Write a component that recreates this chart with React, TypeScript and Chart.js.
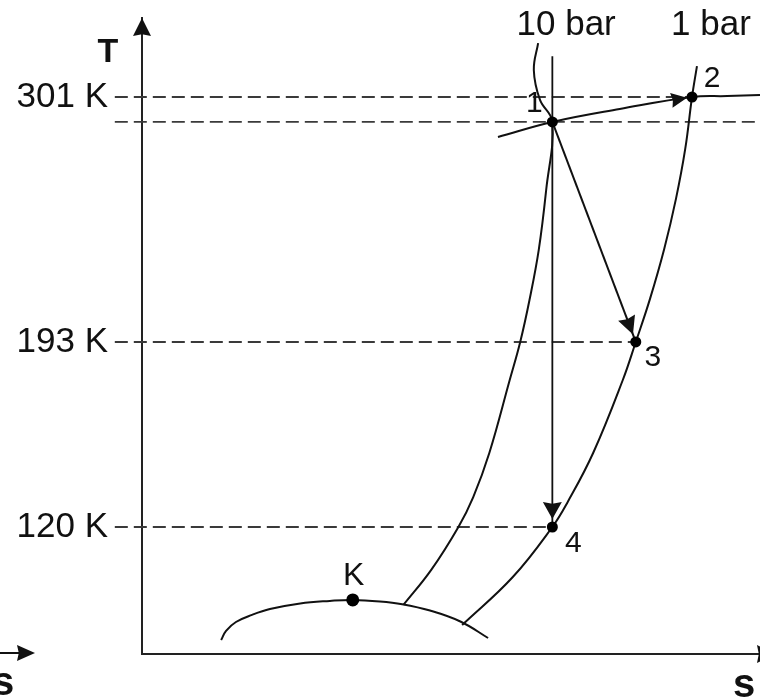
import React, { useEffect, useRef } from 'react';
import { Chart, LinearScale, registerables } from 'chart.js';

Chart.register(...registerables);

// ---- Temperature axis (schematic, not to scale) ----
const TICK_TEMPS = [120, 193, 301];
const T_AXIS_MIN = 70;
const T_AXIS_MAX = 336;
// Reference temperatures and where they sit along the axis (0 = bottom, 1 = top)
const T_AXIS_STOPS = [70, 120, 193, 301, 336];
const T_AXIS_FRACTIONS = [0, 0.1997, 0.4906, 0.8758, 1];

// ---- Entropy axis (arbitrary units) ----
const S_AXIS_MIN = 0;
const S_AXIS_MAX = 10;

// ---- State points ----
const STATE_NAMES = ['1', '2', '3', '4', 'K'];
const STATE_S = [6.64, 8.9, 7.99, 6.64, 3.41];
const STATE_T = [290, 301, 193, 120, 91.3];

// ---- Isobars ----
const ISOBAR_10_S = [6.41, 6.34, 6.44, 6.64, 6.54, 6.42, 6.27, 6.12, 5.95, 5.62, 5.36, 5.12, 4.68, 4.23];
const ISOBAR_10_T = [324.9, 313.0, 299.7, 290, 260.0, 233.6, 211.5, 193, 178.0, 149.2, 131.8, 120, 103.1, 89.3];

const ISOBAR_1_S = [8.98, 8.9, 8.79, 8.64, 8.45, 8.22, 7.99, 7.78, 7.3, 6.88, 6.64, 6.0, 5.18];
const ISOBAR_1_T = [314.7, 301, 278.1, 256.1, 234.0, 212.0, 193, 178.0, 149.2, 129.5, 120, 100.3, 81.4];

// ---- Saturation dome, critical point K on top ----
const DOME_S = [1.28, 1.36, 1.52, 1.78, 2.07, 2.56, 3.04, 3.41, 3.85, 4.21, 4.66, 5.16, 5.6];
const DOME_T = [75.5, 79.1, 82.6, 85.4, 87.7, 89.9, 90.9, 91.3, 90.7, 89.6, 87.1, 82.7, 76.3];

// ---- Curve through states 1 and 2 ----
const LINE_12_S = [5.76, 6.64, 7.73, 8.9, 9.47, 10.0];
const LINE_12_T = [283.4, 290, 295.7, 301, 301.4, 301.9];

// ---- Isentrope through state 1 down to state 4 ----
const ISENTROPE_S = [6.64, 6.64];
const ISENTROPE_T = [319, 120];

// ---- Dashed temperature guides (start left of the T axis) ----
const GUIDE_START_S = -0.44;
const GUIDE_STUB_S = [-2.3, -1.73];

const FONT = '"Liberation Sans", Arial, Helvetica, sans-serif';
const INK = '#111';
const DASH = '#3a3a3a';

const zip = (s: number[], t: number[]) => s.map((x, i) => ({ x, y: t[i] }));
const state = (i: number) => ({ x: STATE_S[i], y: STATE_T[i] });

function toFraction(v: number): number {
  const n = T_AXIS_STOPS.length;
  let i = 0;
  if (v >= T_AXIS_STOPS[n - 2]) i = n - 2;
  else while (i < n - 2 && v > T_AXIS_STOPS[i + 1]) i++;
  const a = T_AXIS_STOPS[i], b = T_AXIS_STOPS[i + 1];
  const fa = T_AXIS_FRACTIONS[i], fb = T_AXIS_FRACTIONS[i + 1];
  return fa + ((v - a) / (b - a)) * (fb - fa);
}

function fromFraction(f: number): number {
  const n = T_AXIS_FRACTIONS.length;
  let i = 0;
  if (f >= T_AXIS_FRACTIONS[n - 2]) i = n - 2;
  else while (i < n - 2 && f > T_AXIS_FRACTIONS[i + 1]) i++;
  const a = T_AXIS_STOPS[i], b = T_AXIS_STOPS[i + 1];
  const fa = T_AXIS_FRACTIONS[i], fb = T_AXIS_FRACTIONS[i + 1];
  return a + ((f - fa) / (fb - fa)) * (b - a);
}

// Piecewise-linear temperature scale for a schematic T-s diagram
class SchematicScale extends LinearScale {
  static id = 'schematic';
  static defaults = {};
  getPixelForValue(value: any) {
    if (value === null || value === undefined || isNaN(value)) return NaN;
    return this.getPixelForDecimal(toFraction(+value));
  }
  getValueForPixel(pixel: number) {
    return fromFraction(this.getDecimalForPixel(pixel));
  }
}
Chart.register(SchematicScale as any);

// Arrowheads placed along process lines: direction from -> to, tip pulled back by `inset` px
const PROCESS_ARROWS = [
  { from: { x: LINE_12_S[2], y: LINE_12_T[2] }, to: state(1), inset: 5, len: 16, half: 7.5 },
  { from: state(0), to: state(2), inset: 8, len: 18, half: 9 },
  { from: state(0), to: state(3), inset: 8, len: 17, half: 9.5 },
];

// Text annotations anchored to data points, offset in px (baseline, centred)
const ANNOTATIONS = [
  { text: '1', at: state(0), dx: -18, dy: -10, size: 30 },
  { text: '2', at: state(1), dx: 20, dy: -10, size: 30 },
  { text: '3', at: state(2), dx: 17, dy: 24, size: 30 },
  { text: '4', at: state(3), dx: 21, dy: 25, size: 30 },
  { text: 'K', at: state(4), dx: 1, dy: -15, size: 32 },
  { text: '10 bar', at: { x: ISOBAR_10_S[0], y: ISOBAR_10_T[0] }, dx: 28, dy: -8, size: 35 },
  { text: '1 bar', at: { x: ISOBAR_1_S[0], y: ISOBAR_1_T[0] }, dx: 14, dy: -31, size: 35 },
];

function arrowHead(ctx: CanvasRenderingContext2D, tx: number, ty: number, ux: number, uy: number, len: number, half: number) {
  ctx.beginPath();
  ctx.moveTo(tx, ty);
  ctx.lineTo(tx - ux * len - uy * half, ty - uy * len + ux * half);
  ctx.lineTo(tx - ux * len * 0.9, ty - uy * len * 0.9);
  ctx.lineTo(tx - ux * len + uy * half, ty - uy * len - ux * half);
  ctx.closePath();
  ctx.fill();
}

const decorations = {
  id: 'tsDecorations',
  afterDatasetsDraw(chart: any) {
    const { ctx, chartArea, scales } = chart;
    const { x, y } = scales;
    ctx.save();
    ctx.fillStyle = INK;
    ctx.strokeStyle = INK;

    // process arrowheads
    for (const a of PROCESS_ARROWS) {
      const fx = x.getPixelForValue(a.from.x), fy = y.getPixelForValue(a.from.y);
      const tx = x.getPixelForValue(a.to.x), ty = y.getPixelForValue(a.to.y);
      const d = Math.hypot(tx - fx, ty - fy);
      const ux = (tx - fx) / d, uy = (ty - fy) / d;
      arrowHead(ctx, tx - ux * a.inset, ty - uy * a.inset, ux, uy, a.len, a.half);
    }

    // axis arrowheads
    arrowHead(ctx, chartArea.left, chartArea.top, 0, -1, 18, 9);
    arrowHead(ctx, chartArea.right + 15, chartArea.bottom, 1, 0, 18, 9);

    // stub of the neighbouring s axis on the left edge
    ctx.lineWidth = 2;
    ctx.beginPath();
    ctx.moveTo(0, chartArea.bottom - 1);
    ctx.lineTo(22, chartArea.bottom - 1);
    ctx.stroke();
    arrowHead(ctx, 35, chartArea.bottom - 1, 1, 0, 18, 8);

    // annotations
    ctx.textAlign = 'center';
    ctx.textBaseline = 'alphabetic';
    for (const t of ANNOTATIONS) {
      ctx.font = `${t.size}px ${FONT}`;
      ctx.fillText(t.text, x.getPixelForValue(t.at.x) + t.dx, y.getPixelForValue(t.at.y) + t.dy);
    }

    // axis letters
    ctx.font = `bold 34px ${FONT}`;
    ctx.fillText('T', chartArea.left - 34, chartArea.top + 44);
    ctx.font = `bold 40px ${FONT}`;
    ctx.fillText('s', chartArea.right - 16, chartArea.bottom + 43);
    ctx.fillText('s', 3, chartArea.bottom + 41);
    ctx.restore();
  },
};

function curve(data: any[], tension: number, width = 2) {
  return {
    data,
    showLine: true,
    pointRadius: 0,
    borderColor: INK,
    borderWidth: width,
    tension,
    fill: false,
    clip: false as any,
  };
}

function guide(data: any[]) {
  return {
    data,
    showLine: true,
    pointRadius: 0,
    borderColor: DASH,
    borderWidth: 1.8,
    borderDash: [13, 6],
    tension: 0,
    fill: false,
    spanGaps: false,
    clip: false as any,
  };
}

export default function App() {
  const canvasRef = useRef<HTMLCanvasElement>(null);

  useEffect(() => {
    const pointRadius = STATE_NAMES.map((n) => (n === 'K' ? 6.5 : 5.5));
    const chart = new Chart(canvasRef.current as HTMLCanvasElement, {
      type: 'scatter',
      data: {
        datasets: [
          {
            label: 'States',
            data: STATE_S.map((s, i) => ({ x: s, y: STATE_T[i] })),
            showLine: false,
            pointRadius,
            pointBackgroundColor: '#000',
            pointBorderWidth: 0,
            clip: false as any,
          },
          curve(ISENTROPE_S.map((s, i) => ({ x: s, y: ISENTROPE_T[i] })), 0, 1.8),
          curve([state(0), state(2)], 0, 2),
          curve(zip(LINE_12_S, LINE_12_T), 0.4),
          curve(zip(ISOBAR_10_S, ISOBAR_10_T), 0.4),
          curve(zip(ISOBAR_1_S, ISOBAR_1_T), 0.4),
          curve(zip(DOME_S, DOME_T), 0.4),
          guide([{ x: GUIDE_START_S, y: STATE_T[1] }, state(1)]),
          guide([
            { x: GUIDE_STUB_S[0], y: STATE_T[0] },
            { x: GUIDE_STUB_S[1], y: STATE_T[0] },
            { x: (GUIDE_STUB_S[1] + GUIDE_START_S) / 2, y: null },
            { x: GUIDE_START_S, y: STATE_T[0] },
            { x: S_AXIS_MAX, y: STATE_T[0] },
          ]),
          guide([{ x: GUIDE_START_S, y: STATE_T[2] }, state(2)]),
          guide([{ x: GUIDE_START_S, y: STATE_T[3] }, state(3)]),
        ] as any,
      },
      options: {
        animation: false,
        responsive: false,
        layout: { autoPadding: false, padding: { top: 18, left: 0, right: 0, bottom: 0 } },
        plugins: { legend: { display: false }, tooltip: { enabled: false } },
        scales: {
          x: {
            type: 'linear',
            min: S_AXIS_MIN,
            max: S_AXIS_MAX,
            grid: { display: false, drawTicks: false },
            border: { display: true, color: '#222', width: 2 },
            ticks: { display: false },
            afterFit: (s: any) => {
              s.height = 46;
              s.paddingLeft = 0;
              s.paddingRight = 0;
            },
          },
          y: {
            type: 'schematic' as any,
            min: T_AXIS_MIN,
            max: T_AXIS_MAX,
            grid: { display: false, drawTicks: false },
            border: { display: true, color: '#222', width: 2 },
            ticks: {
              autoSkip: false,
              padding: 34,
              color: INK,
              font: { size: 35, family: FONT },
              callback: (v: any) => `${v} K`,
            },
            afterBuildTicks: (s: any) => {
              s.ticks = TICK_TEMPS.map((value) => ({ value }));
            },
            afterFit: (s: any) => {
              s.width = 142;
              s.paddingTop = 0;
              s.paddingBottom = 0;
            },
          },
        } as any,
      },
      plugins: [decorations],
    });
    return () => chart.destroy();
  }, []);

  return (
    <div style={{ position: 'absolute', left: 0, top: 0, width: 760, height: 700, background: '#fff' }}>
      <canvas ref={canvasRef} width={760} height={700} style={{ display: 'block' }} />
    </div>
  );
}
